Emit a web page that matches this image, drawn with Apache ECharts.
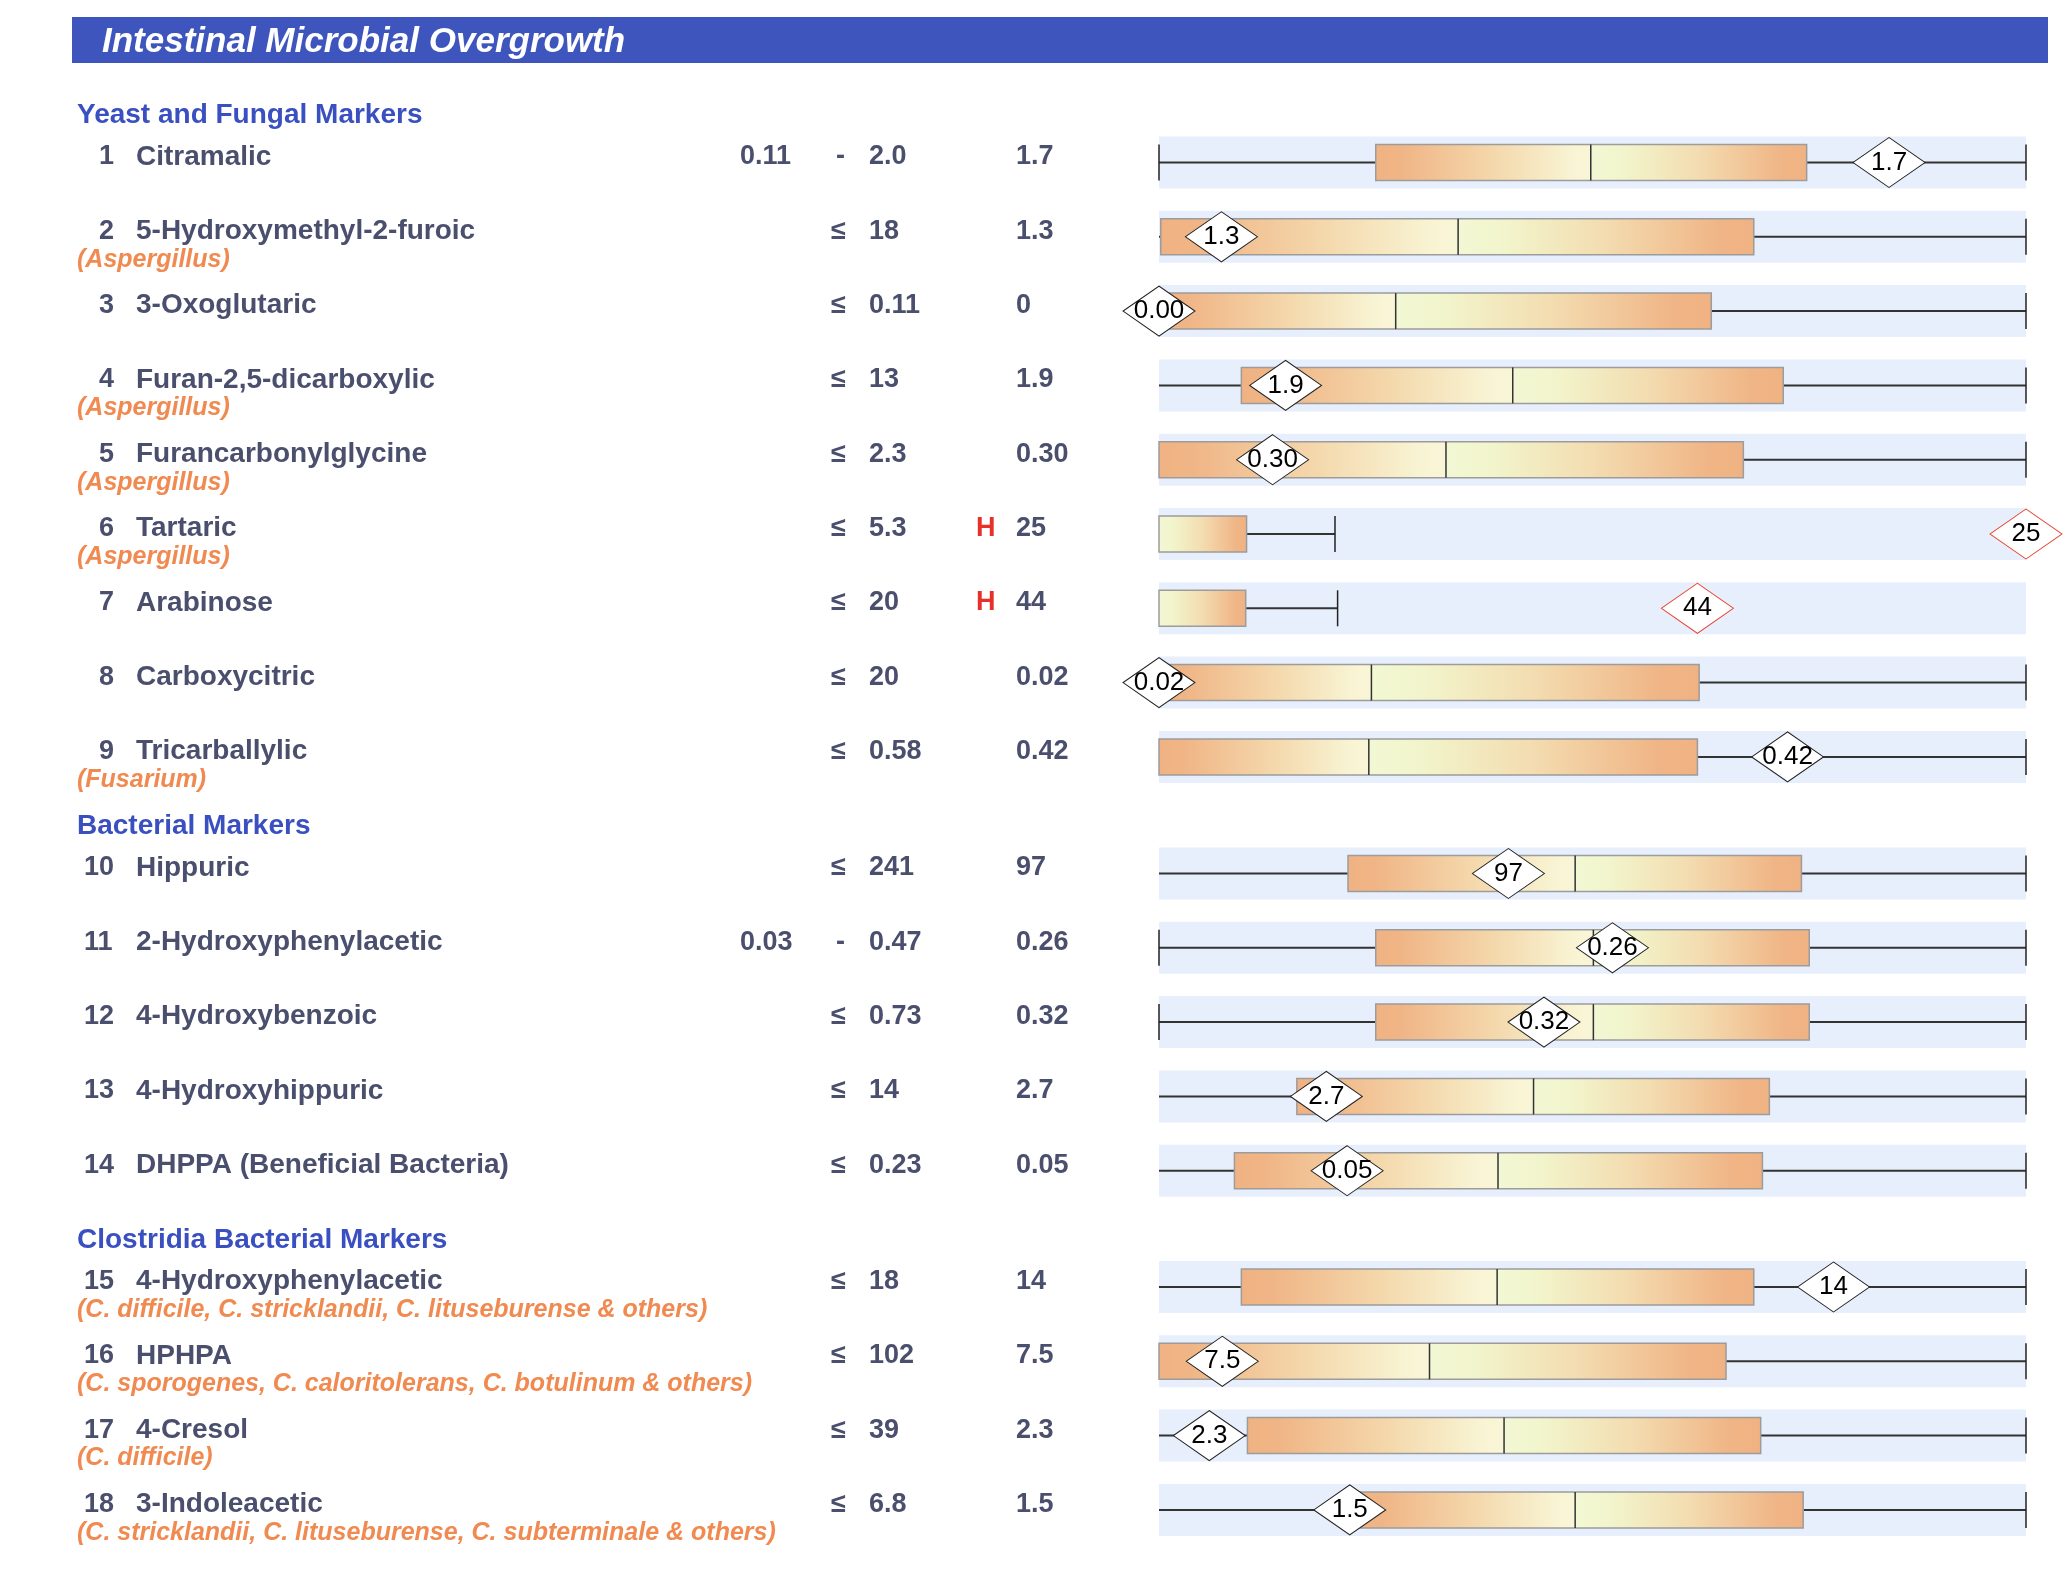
<!DOCTYPE html>
<html><head><meta charset="utf-8">
<script src="https://cdn.jsdelivr.net/npm/echarts@6/dist/echarts.min.js"></script>
<style>html,body{margin:0;padding:0;background:#fff}#c{width:2072px;height:1590px}</style>
</head><body><div id="c"></div>
<script>
// ---------- data ----------
const chartTitle = 'Intestinal Microbial Overgrowth';
const sections = ['Yeast and Fungal Markers', 'Bacterial Markers', 'Clostridia Bacterial Markers'];
const sectionSizes = [9, 5, 4];
const rowNumbers = [1,2,3,4,5,6,7,8,9,10,11,12,13,14,15,16,17,18];
const markerNames = ['Citramalic','5-Hydroxymethyl-2-furoic','3-Oxoglutaric','Furan-2,5-dicarboxylic','Furancarbonylglycine','Tartaric','Arabinose','Carboxycitric','Tricarballylic','Hippuric','2-Hydroxyphenylacetic','4-Hydroxybenzoic','4-Hydroxyhippuric','DHPPA (Beneficial Bacteria)','4-Hydroxyphenylacetic','HPHPA','4-Cresol','3-Indoleacetic'];
const organisms = ['','(Aspergillus)','','(Aspergillus)','(Aspergillus)','(Aspergillus)','','','(Fusarium)','','','','','','(C. difficile, C. stricklandii, C. lituseburense & others)','(C. sporogenes, C. caloritolerans, C. botulinum & others)','(C. difficile)','(C. stricklandii, C. lituseburense, C. subterminale & others)'];
const refLow = ['0.11','','','','','','','','','','0.03','','','','','','',''];
const refOp = ['-','≤','≤','≤','≤','≤','≤','≤','≤','≤','-','≤','≤','≤','≤','≤','≤','≤'];
const refHigh = ['2.0','18','0.11','13','2.3','5.3','20','20','0.58','241','0.47','0.73','14','0.23','18','102','39','6.8'];
const flags = ['','','','','','H','H','','','','','','','','','','',''];
const results = ['1.7','1.3','0','1.9','0.30','25','44','0.02','0.42','97','0.26','0.32','2.7','0.05','14','7.5','2.3','1.5'];
const markerLabels = ['1.7','1.3','0.00','1.9','0.30','25','44','0.02','0.42','97','0.26','0.32','2.7','0.05','14','7.5','2.3','1.5'];
// positions on the normalized 0-100 track
const whiskerLow  = [0,0,0,0,0,0,0,0,0,0,0,0,0,0,0,0,0,0];
const boxLow      = [25.0,0.2,0,9.5,0,0,0,0,0,21.8,25.0,25.0,15.9,8.7,9.5,0,10.2,22.6];
const boxMedian   = [49.8,34.5,27.3,40.8,33.1,0,0,24.5,24.2,48.0,50.1,50.1,43.2,39.1,39.0,31.2,39.8,48.0];
const boxHigh     = [74.7,68.6,63.7,72.0,67.4,10.1,10.0,62.3,62.1,74.1,75.0,75.0,70.4,69.6,68.6,65.4,69.4,74.3];
const whiskerHigh = [100,100,100,100,100,20.3,20.6,100,100,100,100,100,100,100,100,100,100,100];
const resultPos   = [84.2,7.2,0,14.6,13.1,100,62.1,0,72.5,40.3,52.3,44.4,19.3,21.7,77.8,7.3,5.8,22.0];
const lowTick     = [1,0,0,0,0,0,0,0,0,0,1,1,0,0,0,0,0,0];

// ---------- layout / style ----------
const FONT = '"Liberation Sans", Arial, Helvetica, sans-serif';
const GRID_LEFT = 1159, GRID_WIDTH = 867;
const BAND = 74.3;
const gridTops = [125.35, 836.35, 1249.85];
const sectionLabelY = [115, 826, 1240];
const TRACK_H = 52, BOX_H = 36;
const TEXT_COLOR = '#4b4f6e';

const chart = echarts.init(document.getElementById('c'));

const e = s => (s === '' ? ' ' : s);
function rowLabel(i) {
  const n = String(rowNumbers[i]);
  const numPart = n.length > 1 ? '{pre2| }{num2|' + n + '}' : '{pre1| }{num1|' + n + '}';
  const opPart = refOp[i] === '-' ? '{dpre| }{opd|-}' : '{op|' + refOp[i] + '}';
  return numPart + '{sp| }{name|' + markerNames[i] + '}{lo|' + e(refLow[i]) + '}' + opPart +
    '{hi|' + refHigh[i] + '}{flag|' + e(flags[i]) + '}{val|' + results[i] +
    '}\n{org|' + e(organisms[i]) + '}';
}
const base = { fontFamily: FONT, fontWeight: 'bold', color: TEXT_COLOR, lineHeight: 46, fontSize: 27, align: 'left' };
const rich = {
  pre1: Object.assign({}, base, { width: 22 }),
  pre2: Object.assign({}, base, { width: 7 }),
  num1: Object.assign({}, base, { width: 15 }),
  num2: Object.assign({}, base, { width: 30 }),
  sp: Object.assign({}, base, { width: 22 }),
  name: Object.assign({}, base, { width: 604, fontSize: 28 }),
  lo: Object.assign({}, base, { width: 91 }),
  op: Object.assign({}, base, { width: 38 }),
  dpre: Object.assign({}, base, { width: 5 }),
  opd: Object.assign({}, base, { width: 33 }),
  hi: Object.assign({}, base, { width: 107 }),
  flag: Object.assign({}, base, { width: 40, color: '#e8302a' }),
  val: Object.assign({}, base, { width: 110 }),
  org: { fontFamily: FONT, fontWeight: 'bold', fontStyle: 'italic', fontSize: 25, color: '#f08a50', lineHeight: 11, align: 'left' }
};

const gridList = [], xAxes = [], yAxes = [], series = [];
let offset = 0;
sectionSizes.forEach((n, g) => {
  const start = offset;
  const idxs = [];
  for (let k = 0; k < n; k++) idxs.push(start + k);
  gridList.push({ left: GRID_LEFT, width: GRID_WIDTH, top: gridTops[g], height: n * BAND, outerBoundsMode: 'none', containLabel: false });
  xAxes.push({ gridIndex: g, type: 'value', min: 0, max: 100, show: false });
  yAxes.push({
    gridIndex: g, type: 'category', inverse: true,
    data: idxs.map(i => markerNames[i]),
    axisLine: { show: false }, axisTick: { show: false }, splitLine: { show: false },
    axisLabel: {
      interval: 0, align: 'left', margin: GRID_LEFT - 77, verticalAlign: 'middle',
      formatter: (v, k) => rowLabel(start + k), rich: rich
    }
  });
  series.push({
    type: 'custom', xAxisIndex: g, yAxisIndex: g, silent: true, clip: false, z: 2,
    encode: { x: [1, 2, 3, 4, 5], y: 0 },
    data: idxs.map((i, k) => [k, whiskerLow[i], boxLow[i], boxMedian[i], boxHigh[i], whiskerHigh[i], lowTick[i]]),
    renderItem: (params, api) => {
      const r = api.value(0);
      const X = v => api.coord([v, r])[0];
      const y = api.coord([0, r])[1];
      const wl = api.value(1), bl = api.value(2), md = api.value(3), bh = api.value(4), wh = api.value(5), lt = api.value(6);
      const ch = [];
      ch.push({ type: 'rect', shape: { x: X(0), y: y - TRACK_H / 2, width: X(100) - X(0), height: TRACK_H }, style: { fill: '#e8effc' } });
      const ls = { stroke: '#333', lineWidth: 2 };
      if (bl > wl) ch.push({ type: 'line', shape: { x1: X(wl), y1: y, x2: X(bl), y2: y }, style: ls });
      ch.push({ type: 'line', shape: { x1: X(bh), y1: y, x2: X(wh), y2: y }, style: ls });
      ch.push({ type: 'line', shape: { x1: X(wh), y1: y - BOX_H / 2, x2: X(wh), y2: y + BOX_H / 2 }, style: { stroke: '#222', lineWidth: 1.5 } });
      if (lt) ch.push({ type: 'line', shape: { x1: X(wl), y1: y - BOX_H / 2, x2: X(wl), y2: y + BOX_H / 2 }, style: { stroke: '#222', lineWidth: 1.5 } });
      if (md > bl) ch.push({ type: 'rect', shape: { x: X(bl), y: y - BOX_H / 2, width: X(md) - X(bl), height: BOX_H },
        style: { fill: new echarts.graphic.LinearGradient(0, 0, 1, 0, [
          { offset: 0, color: '#f0b283' }, { offset: 0.12, color: '#f0b586' }, { offset: 0.55, color: '#f4d8ac' }, { offset: 0.9, color: '#f8f3d2' }, { offset: 1, color: '#f9f6d8' }]) } });
      ch.push({ type: 'rect', shape: { x: X(md), y: y - BOX_H / 2, width: X(bh) - X(md), height: BOX_H },
        style: { fill: new echarts.graphic.LinearGradient(0, 0, 1, 0, [
          { offset: 0, color: '#f2f8d4' }, { offset: 0.15, color: '#f2f5cc' }, { offset: 0.5, color: '#f3dcb0' }, { offset: 0.88, color: '#f0b586' }, { offset: 1, color: '#f0b283' }]) } });
      ch.push({ type: 'rect', shape: { x: X(bl), y: y - BOX_H / 2, width: X(bh) - X(bl), height: BOX_H }, style: { fill: 'none', stroke: '#9c9c9c', lineWidth: 1.5 } });
      if (md > bl) ch.push({ type: 'line', shape: { x1: X(md), y1: y - BOX_H / 2, x2: X(md), y2: y + BOX_H / 2 }, style: { stroke: '#333', lineWidth: 1.5 } });
      return { type: 'group', children: ch };
    }
  });
  series.push({
    type: 'scatter', xAxisIndex: g, yAxisIndex: g, silent: true, clip: false, z: 5,
    symbol: 'diamond', symbolSize: [72, 50],
    data: idxs.map((i, k) => ({
      value: [resultPos[i], k], name: markerLabels[i],
      itemStyle: { color: '#fff', borderColor: flags[i] ? '#e8402f' : '#222', borderWidth: 1, opacity: 1 }
    })),
    label: { show: true, position: 'inside', formatter: p => p.name, color: '#000', fontSize: 26, fontFamily: FONT },
    emphasis: { disabled: true }
  });
  offset += n;
});

const graphics = [
  { type: 'rect', shape: { x: 72, y: 17, width: 1976, height: 46 }, style: { fill: '#3d55bd' } },
  { type: 'text', x: 102, y: 42, style: { text: chartTitle, fill: '#fff', font: 'italic bold 35px ' + FONT, verticalAlign: 'middle', align: 'left' } }
];
sections.forEach((s, g) => graphics.push({ type: 'text', x: 77, y: sectionLabelY[g],
  style: { text: s, fill: '#3a50c0', font: 'bold 28px ' + FONT, verticalAlign: 'middle', align: 'left' } }));

chart.setOption({
  animation: false,
  backgroundColor: '#fff',
  grid: gridList, xAxis: xAxes, yAxis: yAxes, series: series,
  graphic: graphics
});
</script></body></html>
